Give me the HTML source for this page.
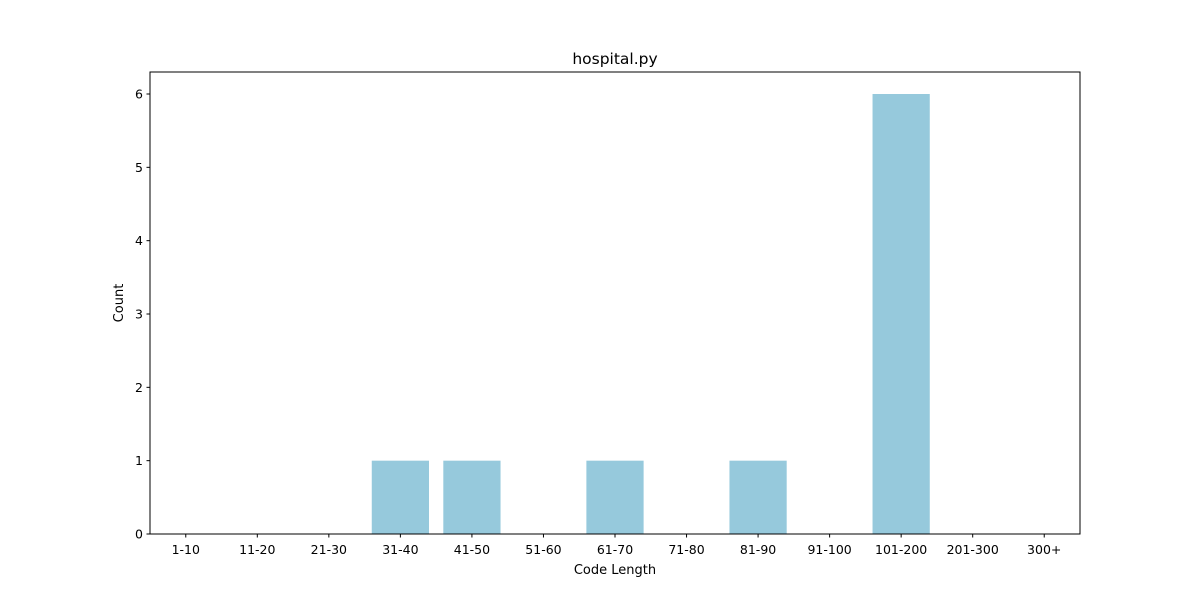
<!DOCTYPE html>
<html><head><meta charset="utf-8"><style>
body{margin:0;background:#fff;font-family:"Liberation Sans","DejaVu Sans",sans-serif;}
svg text{font-family:"DejaVu Sans","Liberation Sans",sans-serif;}
</style></head><body>
<svg id="chart" width="1200" height="600" xmlns="http://www.w3.org/2000/svg"></svg>
<script>
const categories=["1-10","11-20","21-30","31-40","41-50","51-60","61-70","71-80","81-90","91-100","101-200","201-300","300+"];
const counts=[0,0,0,1,1,0,1,0,1,0,6,0,0];
const yTicks=[0,1,2,3,4,5,6];
const L=150,R=1080,T=72,B=534;
const xmin=-0.5,xmax=12.5,ymin=0,ymax=6.3;
const sx=v=>L+(v-xmin)/(xmax-xmin)*(R-L);
const sy=v=>B-(v-ymin)/(ymax-ymin)*(B-T);
const svg=document.getElementById('chart');
const NS='http://www.w3.org/2000/svg';
function mk(tag,attrs,parent){const e=document.createElementNS(NS,tag);for(const k in attrs)e.setAttribute(k,attrs[k]);(parent||svg).appendChild(e);return e;}
counts.forEach((c,i)=>{
  const r=mk('rect',{x:sx(i-0.4),y:sy(c),width:sx(i+0.4)-sx(i-0.4),height:sy(0)-sy(c),fill:'#96c9dc'});
  
  
});
const frame=mk('rect',{x:L,y:T,width:R-L,height:B-T,fill:'none',stroke:'#000','stroke-width':1});


categories.forEach((c,i)=>{
  const x=sx(i);
  mk('line',{x1:x,x2:x,y1:B,y2:B+3.5,stroke:'#000'});
  const t=mk('text',{x:x,y:B+20,'text-anchor':'middle','font-size':12.5});
  t.textContent=c;
  
  
});
yTicks.forEach(v=>{
  const y=sy(v);
  mk('line',{x1:L-3.5,x2:L,y1:y,y2:y,stroke:'#000'});
  const t=mk('text',{x:L-7,y:y+4.5,'text-anchor':'end','font-size':12.5});
  t.textContent=v;
  
  
});
const xt=mk('text',{x:(L+R)/2,y:574,'text-anchor':'middle','font-size':13});
xt.textContent='Code Length';


const yt=mk('text',{x:123,y:(T+B)/2,'text-anchor':'middle','font-size':13,transform:'rotate(-90 123 '+((T+B)/2)+')'});
yt.textContent='Count';


const title=mk('text',{x:(L+R)/2,y:64,'text-anchor':'middle','font-size':15.5});
title.textContent='hospital.py';


</script>
</body></html>
